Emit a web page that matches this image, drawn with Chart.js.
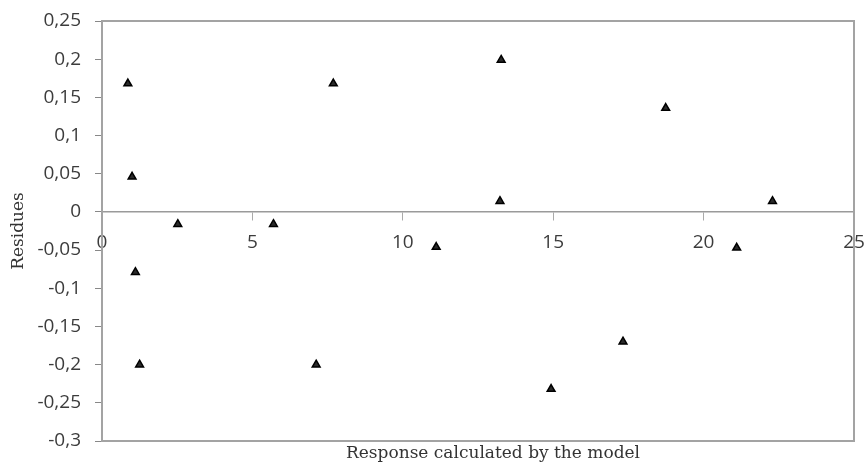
<!DOCTYPE html>
<html>
<head>
<meta charset="utf-8">
<script src="https://cdn.jsdelivr.net/npm/chart.js@4.4.1/dist/chart.umd.min.js"></script>
<style>
  html, body { margin: 0; padding: 0; background: #fff; }
  #wrap { width: 867px; height: 464px; }
</style>
</head>
<body>
<div id="wrap"><canvas id="residueChart"></canvas></div>
<script>
// values
const predicted = [0.86, 1.0, 2.52, 5.7, 7.69, 1.11, 1.25, 7.12, 11.11, 13.27, 13.23, 14.93, 17.32, 18.74, 22.29, 21.1];
const residues  = [0.168, 0.046, -0.016, -0.016, 0.168, -0.079, -0.2, -0.2, -0.046, 0.199, 0.014, -0.232, -0.17, 0.136, 0.014, -0.047];
const xRange = [0, 25];
const yRange = [-0.3, 0.25];
const xStep = 5;
const yStep = 0.05;

const points = predicted.map((x, i) => ({ x: x, y: residues[i] }));

// grey box round the plot area, x title nudged right like the original
const frame = {
    id: 'frame',
    afterLayout(chart) {
        chart.scales.xTitle.left += 30;
    },
    beforeDatasetsDraw(chart) {
        const a = chart.chartArea;
        const c = chart.ctx;
        c.save();
        c.strokeStyle = '#a3a3a3';
        c.lineWidth = 2;
        c.strokeRect(a.left, a.top, a.right - a.left, a.bottom - a.top);
        c.restore();
    }
};

const tickFont = { family: 'Open Sans', size: 19 };
const titleFont = { family: 'DejaVu Serif', size: 17 };

new Chart(document.getElementById('residueChart'), {
    type: 'scatter',
    data: {
        datasets: [{
            data: points,
            pointStyle: 'triangle',
            pointRadius: 4.5,
            backgroundColor: '#2a2a2a',
            borderColor: '#000',
            borderWidth: 1.5
        }]
    },
    options: {
        responsive: true,
        maintainAspectRatio: false,
        animation: false,
        layout: { padding: { top: 21, right: 13, left: 0, bottom: 0 } },
        plugins: { legend: { display: false }, tooltip: { enabled: false } },
        scales: {
            x: {
                type: 'linear',
                position: { y: 0 },
                min: xRange[0],
                max: xRange[1],
                ticks: { stepSize: xStep, font: tickFont, color: '#3c3c3c', padding: 11 },
                grid: { drawOnChartArea: false, tickLength: 8, color: '#aaa' },
                border: { color: '#9a9a9a', width: 1.5 },
                afterFit: s => { s.paddingLeft = 0; s.paddingRight = 0; }
            },
            xTitle: {
                type: 'linear',
                axis: 'x',
                position: 'bottom',
                min: xRange[0],
                max: xRange[1],
                ticks: { display: false },
                grid: { display: false },
                border: { display: false },
                title: {
                    display: true,
                    text: 'Response calculated by the model',
                    font: titleFont,
                    color: '#333',
                    padding: { top: 1, bottom: 0 }
                },
                afterFit: s => { s.height = 23; }
            },
            y: {
                type: 'linear',
                min: yRange[0],
                max: yRange[1],
                ticks: {
                    stepSize: yStep,
                    font: tickFont,
                    color: '#3c3c3c',
                    padding: 14,
                    callback: v => String(Math.round(v * 100) / 100).replace('.', ',')
                },
                grid: { drawOnChartArea: false, tickLength: 7, color: '#888' },
                border: { color: '#7a7a7a', width: 2 },
                title: {
                    display: true,
                    text: 'Residues',
                    font: titleFont,
                    color: '#333',
                    padding: { top: 8, bottom: 0 }
                },
                afterFit: s => { s.width = 102; s.paddingTop = 0; s.paddingBottom = 0; }
            }
        }
    },
    plugins: [frame]
});
</script>
</body>
</html>
